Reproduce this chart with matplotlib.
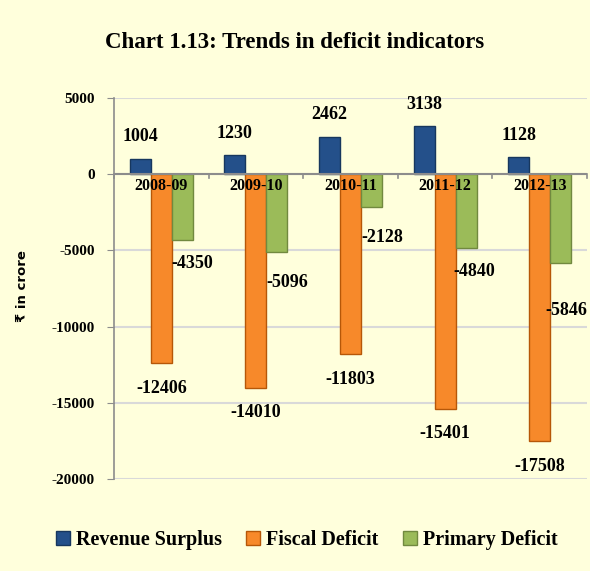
import matplotlib
matplotlib.use("Agg")
from matplotlib import pyplot as plt
import numpy as np

years = ["2008-09", "2009-10", "2010-11", "2011-12", "2012-13"]
revenue_surplus = [1004, 1230, 2462, 3138, 1128]
fiscal_deficit = [-12406, -14010, -11803, -15401, -17508]
primary_deficit = [-4350, -5096, -2128, -4840, -5846]
yticks = [5000, 0, -5000, -10000, -15000, -20000]

bg = "#FFFFDC"
c_blue = "#24508A"
c_orange = "#F7892A"
c_green = "#9BBB59"
serif = "Liberation Serif"

# label nudges in pixels (the labels in the original are placed by hand)
green_drop = [23, 31, 31, 24, 47]
green_shift = [10, 10, 11, 8, 6]

fig = plt.figure(figsize=(5.9, 5.71), dpi=100, facecolor=bg)
ax = fig.add_axes([114 / 590, 1 - 479 / 571, 473 / 590, 381 / 571], facecolor=bg)

x = np.arange(len(years))
w = 0.222
b1 = ax.bar(x - w, revenue_surplus, w, color=c_blue, edgecolor="#17375E", linewidth=1, zorder=3, label="Revenue Surplus")
b2 = ax.bar(x, fiscal_deficit, w, color=c_orange, edgecolor="#B65708", linewidth=1, zorder=3, label="Fiscal Deficit")
b3 = ax.bar(x + w, primary_deficit, w, color=c_green, edgecolor="#71893F", linewidth=1, zorder=3, label="Primary Deficit")

ax.set_xlim(-0.5, len(years) - 0.5)
ax.set_ylim(-20000, 5000)
ax.set_yticks(yticks)
ax.set_yticklabels([str(t) for t in yticks], fontfamily=serif, fontweight="bold", fontsize=11)
ax.set_xticks([])
ax.grid(axis="y", color="#D9D9D9", linewidth=1.5, zorder=0)
ax.axhline(0, color="#8C8C8C", linewidth=1.5, zorder=4)
for b in np.arange(len(years) + 1) - 0.5:
    ax.plot([b, b], [0, -250], color="#8C8C8C", linewidth=1.2, zorder=4, clip_on=False)

for s in ["top", "right", "bottom"]:
    ax.spines[s].set_visible(False)
ax.spines["left"].set_color("#8C8C8C")
ax.spines["left"].set_linewidth(1.2)
ax.tick_params(axis="y", length=5, color="#8C8C8C", pad=9)

lab = dict(fontfamily=serif, fontweight="bold", fontsize=13, ha="center", va="center",
           textcoords="offset pixels")
for i in range(len(years)):
    ax.annotate(years[i], (x[i], 0), xytext=(0, -12), zorder=5,
                **dict(lab, fontsize=11.5))
    ax.annotate(str(revenue_surplus[i]), (x[i] - w, revenue_surplus[i]), xytext=(0, 22), **lab)
    ax.annotate(str(fiscal_deficit[i]), (x[i], fiscal_deficit[i]), xytext=(0, -25), **lab)
    ax.annotate(str(primary_deficit[i]), (x[i] + w, primary_deficit[i]),
                xytext=(green_shift[i], -green_drop[i]), **lab)

fig.text(0.5, 1 - 42 / 571, "Chart 1.13: Trends in deficit indicators", ha="center", va="center",
         fontfamily=serif, fontweight="bold", fontsize=16.5)
fig.text(22 / 590, 1 - 286 / 571, "₹ in crore", rotation=90, ha="center", va="center",
         fontfamily=["DejaVu Sans"], fontweight="bold", fontsize=9.5)

fig.legend(handles=[b1, b2, b3], loc="center", bbox_to_anchor=(0.52, 1 - 540 / 571), ncol=3,
           frameon=False, prop=dict(family=serif, weight="bold", size=14.5),
           handlelength=0.7, handleheight=0.7, handletextpad=0.3, columnspacing=1.2)

fig.savefig("out.png", dpi=100, facecolor=bg)
